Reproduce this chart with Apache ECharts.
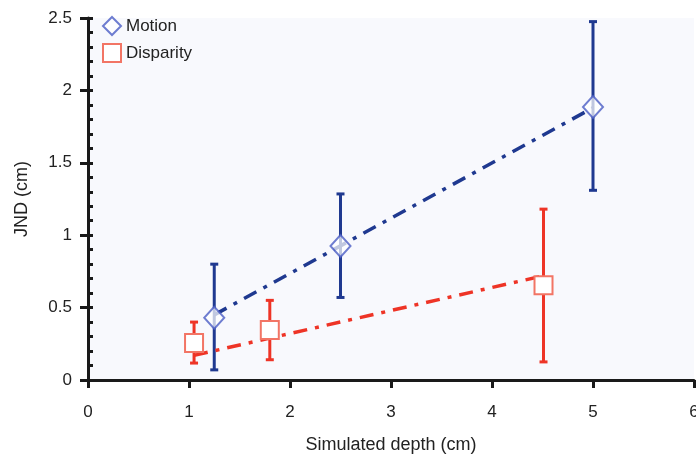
<!DOCTYPE html>
<html>
<head>
<meta charset="utf-8">
<script src="https://cdn.jsdelivr.net/npm/echarts@6/dist/echarts.min.js"></script>
<style>html,body{margin:0;padding:0;background:#fff}#c{width:696px;height:458px}</style>
</head>
<body>
<div id="c"></div>
<script>
// Data
var motionX = [1.25, 2.5, 5];
var motionY = [0.43, 0.925, 1.885];
var motionLow = [0.07, 0.57, 1.31];
var motionHigh = [0.80, 1.285, 2.475];

var disparityX = [1.05, 1.8, 4.51];
var disparityY = [0.255, 0.345, 0.655];
var disparityLow = [0.117, 0.14, 0.125];
var disparityHigh = [0.40, 0.55, 1.18];

var motionFitX = [1.25, 5];
var motionFitY = [0.45, 1.88];
var disparityFitX = [1.05, 4.51];
var disparityFitY = [0.17, 0.72];

var xTicks = [0, 1, 2, 3, 4, 5, 6];
var yTicks = [0, 0.5, 1, 1.5, 2, 2.5];

var BLUE = '#1f3990';
var RED = '#ee3426';
var FONT = 'Liberation Sans, Arial, sans-serif';

function zip(a, b) { return a.map(function (v, i) { return [v, b[i]]; }); }
function errData(x, lo, hi) { return x.map(function (v, i) { return [v, lo[i], hi[i]]; }); }

function errRender(color) {
  return function (params, api) {
    var x = api.value(0);
    var lo = api.coord([x, api.value(1)]);
    var hi = api.coord([x, api.value(2)]);
    var cap = 4;
    var st = { stroke: color, lineWidth: 3 };
    return {
      type: 'group',
      children: [
        { type: 'line', shape: { x1: lo[0], y1: lo[1], x2: hi[0], y2: hi[1] }, style: st },
        { type: 'line', shape: { x1: lo[0] - cap, y1: lo[1], x2: lo[0] + cap, y2: lo[1] }, style: st },
        { type: 'line', shape: { x1: hi[0] - cap, y1: hi[1], x2: hi[0] + cap, y2: hi[1] }, style: st }
      ]
    };
  };
}

var chart = echarts.init(document.getElementById('c'));
chart.setOption({
  animation: false,
  backgroundColor: '#ffffff',
  textStyle: { fontFamily: FONT },
  grid: { left: 88, right: 2, top: 18, bottom: 78, show: true, backgroundColor: '#f8f9fd', borderWidth: 0,
    containLabel: false, outerBoundsMode: 'none' },
  legend: {
    orient: 'vertical', left: 97, top: 11, itemGap: 7, itemWidth: 18, itemHeight: 18,
    textStyle: { fontSize: 17, color: '#222', fontFamily: FONT },
    data: [
      { name: 'Motion', icon: 'diamond', itemStyle: { color: '#fff', borderColor: '#4a5cc4', borderWidth: 2 } },
      { name: 'Disparity', icon: 'rect', itemStyle: { color: '#fff', borderColor: '#f27565', borderWidth: 2 } }
    ]
  },
  xAxis: {
    type: 'value', min: 0, max: 6, interval: 1,
    name: 'Simulated depth (cm)', nameLocation: 'middle', nameGap: 56,
    nameTextStyle: { fontSize: 18, color: '#222', fontFamily: FONT },
    axisLine: { show: true, lineStyle: { color: '#1a1a1a', width: 3 } },
    axisTick: { show: true, length: 8, lineStyle: { color: '#1a1a1a', width: 3 } },
    axisLabel: { fontSize: 17, color: '#222', margin: 24, fontFamily: FONT,
      formatter: function (v) { return xTicks.indexOf(v) >= 0 ? String(v) : ''; } },
    splitLine: { show: false }
  },
  yAxis: [{
    type: 'value', min: 0, max: 2.5, interval: 0.5,
    name: 'JND (cm)', nameLocation: 'middle', nameGap: 57, nameRotate: 90,
    nameTextStyle: { fontSize: 18, color: '#222', fontFamily: FONT },
    axisLine: { show: true, lineStyle: { color: '#1a1a1a', width: 3 } },
    axisTick: { show: true, length: 8, lineStyle: { color: '#1a1a1a', width: 3 } },
    axisLabel: { fontSize: 17, color: '#222', margin: 16, fontFamily: FONT,
      formatter: function (v) { return yTicks.indexOf(v) >= 0 ? String(v) : ''; } },
    splitLine: { show: false }
  }, {
    type: 'value', min: 0, max: 2.5, interval: 0.1, position: 'left', offset: 0,
    axisLine: { show: false },
    axisTick: { show: true, inside: true, length: 5, lineStyle: { color: '#1a1a1a', width: 3 } },
    axisLabel: { show: false },
    splitLine: { show: false }
  }],
  series: [
    { type: 'custom', name: 'motionErr', renderItem: errRender(BLUE), data: errData(motionX, motionLow, motionHigh), z: 1, silent: true, encode: { x: 0, y: [1, 2] } },
    { type: 'custom', name: 'dispErr', renderItem: errRender(RED), data: errData(disparityX, disparityLow, disparityHigh), z: 1, silent: true, encode: { x: 0, y: [1, 2] } },
    { type: 'line', name: 'motionFit', data: zip(motionFitX, motionFitY), showSymbol: false, z: 2,
      lineStyle: { color: BLUE, width: 3.5, type: [14, 8, 4, 8] } },
    { type: 'line', name: 'dispFit', data: zip(disparityFitX, disparityFitY), showSymbol: false, z: 2,
      lineStyle: { color: RED, width: 3.5, type: [14, 8, 4, 8] } },
    { type: 'scatter', name: 'Disparity', data: zip(disparityX, disparityY), symbol: 'rect', symbolSize: 18, z: 3,
      itemStyle: { color: '#ffffff', borderColor: '#f27565', borderWidth: 2, opacity: 1 } },
    { type: 'scatter', name: 'Motion', data: zip(motionX, motionY), symbol: 'diamond', symbolSize: [20, 22], z: 3,
      itemStyle: { color: 'rgba(255,255,255,0.9)', borderColor: '#4a5cc4', borderWidth: 2 } }
  ]
});
</script>
</body>
</html>
